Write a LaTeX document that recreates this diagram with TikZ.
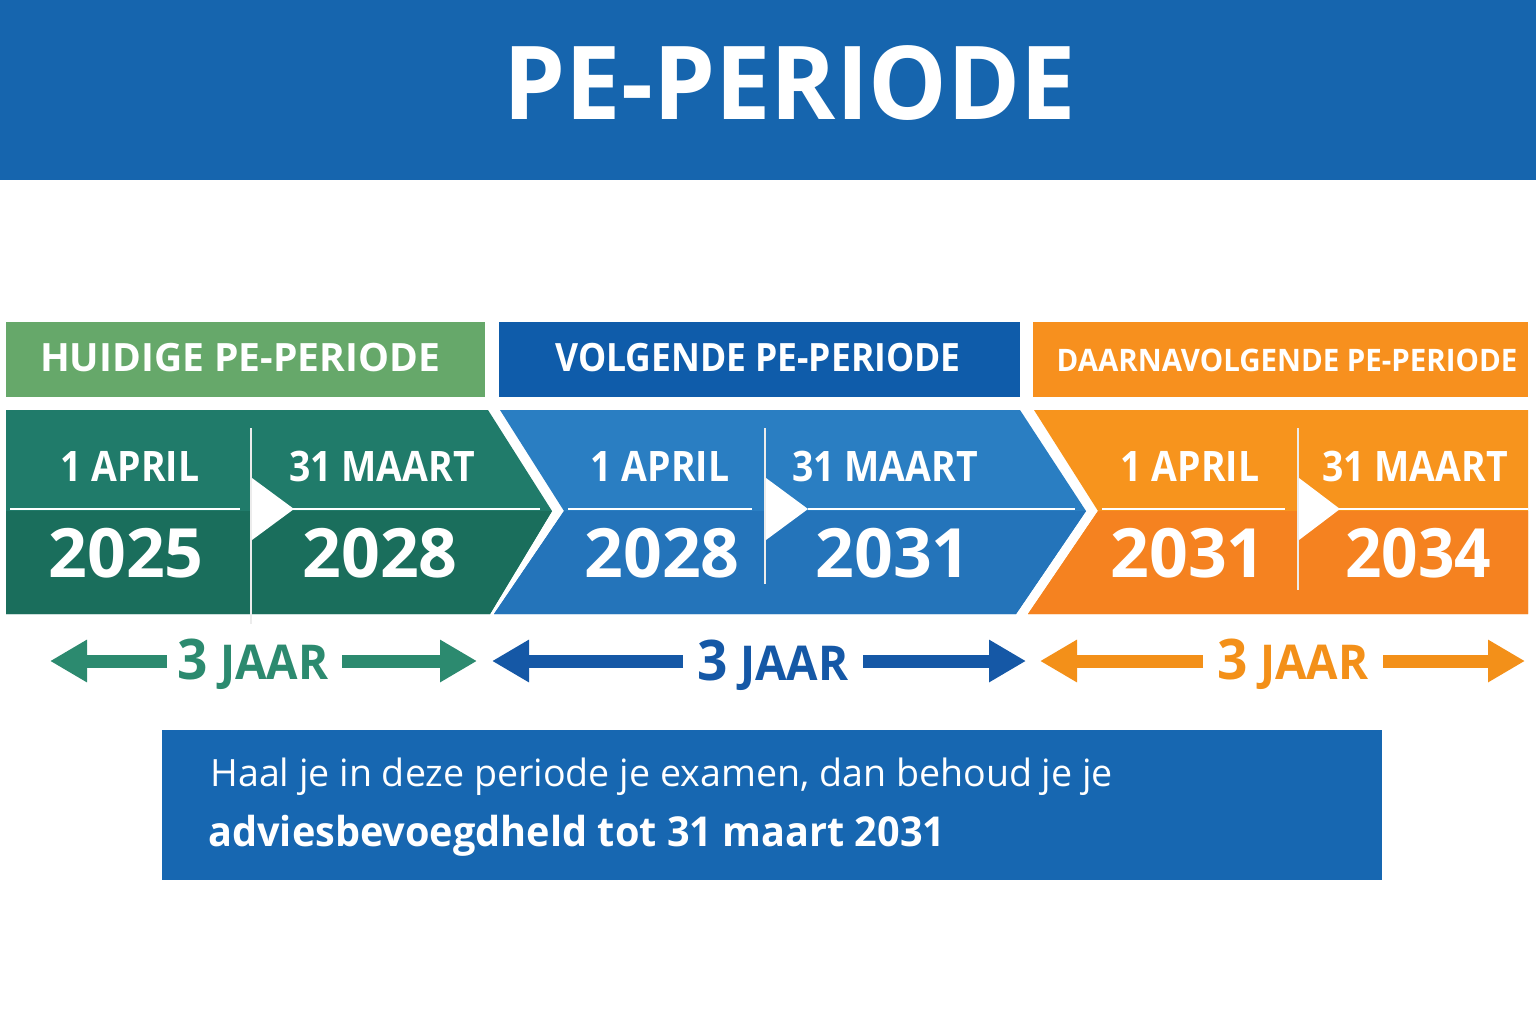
\documentclass[tikz,border=0pt]{standalone}
\usepackage{fontspec}
\setmainfont{Open Sans}
\usetikzlibrary{arrows.meta}
\definecolor{titleblue}{RGB}{22,101,174}
\definecolor{hgreen}{RGB}{102,168,106}
\definecolor{hblue}{RGB}{15,92,170}
\definecolor{horange}{RGB}{247,144,30}
\definecolor{cgreen}{RGB}{32,123,106}
\definecolor{cgreenlow}{RGB}{26,110,92}
\definecolor{cblue}{RGB}{42,126,194}
\definecolor{cbluelow}{RGB}{36,116,186}
\definecolor{corange}{RGB}{247,148,29}
\definecolor{corangelow}{RGB}{245,130,32}
\definecolor{agreen}{RGB}{44,138,111}
\definecolor{ablue}{RGB}{21,88,166}
\definecolor{aorange}{RGB}{243,144,25}
\definecolor{boxblue}{RGB}{23,103,177}
\newcommand\fsz[1]{\fontsize{#1}{#1}\selectfont}
\newcommand\cond[2]{\scalebox{#1}[1]{#2}}
\newcommand\dlbl[1]{\cond{0.89}{#1}}
\tikzset{
  hdr/.style={text=white,font=\bfseries\fsz{19.5pt},inner sep=0pt},
  datelbl/.style={text=white,font=\bfseries\fsz{21pt},inner sep=0pt},
  yearlbl/.style={text=white,font=\bfseries\fsz{34pt},inner sep=0pt},
  jaar/.style={font=\bfseries\fsz{24pt},inner sep=0pt},
  divline/.style={white,line width=1pt},
  vline/.style={white!85!gray,line width=0.8pt},
  blockarrow/.style={line width=6.5pt,-{Triangle[length=18.5pt,width=20pt]}},
}
\begin{document}
\begin{tikzpicture}[x=0.5pt,y=-0.5pt]
\useasboundingbox (0,0) rectangle (1536,1024);
% title band
\fill[titleblue] (0,0) rectangle (1536,180);
\node[text=white,font=\bfseries\fsz{51pt},inner sep=0pt] (title) at (790,83) {\cond{0.97}{PE-PERIODE}};
% header boxes
\fill[hgreen] (6,322) rectangle (485,397);
\fill[hblue] (499,322) rectangle (1020,397);
\fill[horange] (1033,322) rectangle (1528,397);
\node[hdr] (h1) at (240,358) {HUIDIGE PE-PERIODE};
\node[hdr] (h2) at (758,358) {\cond{0.91}{VOLGENDE PE-PERIODE}};
\node[hdr,font=\bfseries\fsz{15.5pt}] (h3) at (1287,360) {\cond{0.95}{DAARNAVOLGENDE PE-PERIODE}};
% chevrons
\fill[cgreen] (6,410) -- (488,410) -- (552,511) -- (490,614) -- (6,614) -- cycle;
\fill[cgreenlow] (6,511) -- (552,511) -- (490,614) -- (6,614) -- cycle;
\fill[cblue] (500,410) -- (1020,410) -- (1086,511) -- (1016,614) -- (494,614) -- (564,511) -- cycle;
\fill[cbluelow] (564,511) -- (1086,511) -- (1016,614) -- (494,614) -- cycle;
\fill[corange] (1034,410) -- (1528,410) -- (1528,614) -- (1028,614) -- (1098,511) -- cycle;
\fill[corangelow] (1098,511) -- (1528,511) -- (1528,614) -- (1028,614) -- cycle;
% dividers
\draw[vline] (251,428) -- (251,624);
\draw[vline] (765,428) -- (765,584);
\draw[vline] (1298,428) -- (1298,590);
\draw[divline] (10,509) -- (240,509);
\draw[divline] (293,509) -- (540,509);
\draw[divline] (568,509) -- (752,509);
\draw[divline] (808,509) -- (1075,509);
\draw[divline] (1102,509) -- (1285,509);
\draw[divline] (1338,509) -- (1528,509);
\fill[white] (252,478) -- (294,509) -- (252,540) -- cycle;
\fill[white] (766,478) -- (808,509) -- (766,540) -- cycle;
\fill[white] (1299,478) -- (1340,509) -- (1299,540) -- cycle;
% dates
\node[datelbl] (g1) at (130,466) {\dlbl{1 APRIL}};
\node[datelbl] (g2) at (382,466) {\dlbl{31 MAART}};
\node[yearlbl] (g3) at (126,553) {2025};
\node[yearlbl] (g4) at (380,553) {2028};
\node[datelbl] (b1) at (660,466) {\dlbl{1 APRIL}};
\node[datelbl] (b2) at (885,466) {\dlbl{31 MAART}};
\node[yearlbl] (b3) at (662,553) {2028};
\node[yearlbl] (b4) at (893,553) {2031};
\node[datelbl] (o1) at (1190,466) {\dlbl{1 APRIL}};
\node[datelbl] (o2) at (1415,466) {\dlbl{31 MAART}};
\node[yearlbl] (o3) at (1188,553) {2031};
\node[yearlbl] (o4) at (1418,553) {\cond{0.94}{2034}};
% 3 jaar arrows
\coordinate (gls) at (167,661); \coordinate (glt) at (50,661);
\coordinate (grs) at (342,661); \coordinate (grt) at (477,661);
\coordinate (bls) at (683,661); \coordinate (blt) at (492,661);
\coordinate (brs) at (863,661); \coordinate (brt) at (1026,661);
\coordinate (ols) at (1203,661); \coordinate (olt) at (1040,661);
\coordinate (ors) at (1383,661); \coordinate (ort) at (1525,661);
\draw[blockarrow,agreen] (gls) -- (glt);
\draw[blockarrow,agreen] (grs) -- (grt);
\draw[blockarrow,ablue] (bls) -- (blt);
\draw[blockarrow,ablue] (brs) -- (brt);
\draw[blockarrow,aorange] (ols) -- (olt);
\draw[blockarrow,aorange] (ors) -- (ort);
\node[jaar,text=agreen] (gj) at (253,664) {\cond{0.95}{{\fsz{28pt}3} JAAR}};
\node[jaar,text=ablue] (bj) at (773,665) {\cond{0.95}{{\fsz{28pt}3} JAAR}};
\node[jaar,text=aorange] (oj) at (1293,664) {\cond{0.95}{{\fsz{28pt}3} JAAR}};
% bottom box
\fill[boxblue] (162,730) rectangle (1382,880);
\node[anchor=base west,text=white,font=\fsz{18.8pt},inner sep=0pt] (t1) at (210,786) {Haal je in deze periode je examen, dan behoud je je};
\node[anchor=base west,text=white,font=\bfseries\fsz{20.6pt},inner sep=0pt] (t2) at (208,846) {\cond{0.962}{adviesbevoegdheld tot 31 maart 2031}};
\end{tikzpicture}
\end{document}
